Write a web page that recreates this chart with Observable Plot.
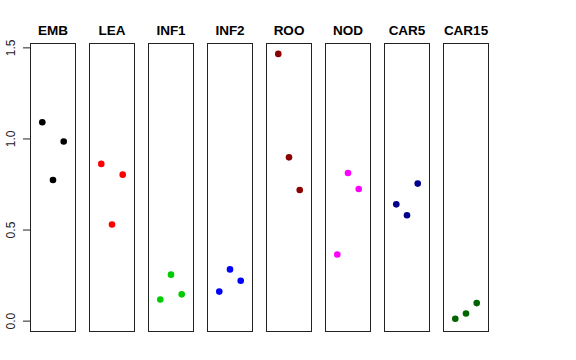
<!DOCTYPE html>
<html>
<head>
<meta charset="utf-8">
<script src="https://cdn.jsdelivr.net/npm/d3@7"></script>
<script src="https://cdn.jsdelivr.net/npm/@observablehq/plot@0.6"></script>
<style>
  body { margin: 0; background: white; }
  svg { font-family: "Liberation Sans", Arial, sans-serif; }
</style>
</head>
<body>
<div id="chart"></div>
<script>
const tissues = ["EMB", "LEA", "INF1", "INF2", "ROO", "NOD", "CAR5", "CAR15"];
const tissueColors = ["#000000", "#FF0000", "#00CD00", "#0000FF", "#8B0000", "#FF00FF", "#00008B", "#006400"];
const replicates = [1, 2, 3];
const EMB = [1.092, 0.775, 0.986];
const LEA = [0.863, 0.530, 0.804];
const INF1 = [0.119, 0.255, 0.147];
const INF2 = [0.162, 0.284, 0.222];
const ROO = [1.467, 0.899, 0.720];
const NOD = [0.366, 0.813, 0.725];
const CAR5 = [0.641, 0.581, 0.755];
const CAR15 = [0.013, 0.042, 0.099];
const seriesValues = [EMB, LEA, INF1, INF2, ROO, NOD, CAR5, CAR15];
const yTicks = [0, 0.5, 1.0, 1.5];

const data = tissues.flatMap((t, i) =>
  seriesValues[i].map((v, j) => ({ tissue: t, rep: replicates[j], value: v }))
);

const chart = Plot.plot({
  width: 576,
  height: 360,
  marginLeft: 29,
  marginRight: 88,
  marginTop: 43,
  marginBottom: 29,
  style: { fontFamily: "Liberation Sans, Arial, sans-serif", background: "white" },
  fx: { domain: tissues, paddingInner: 0.24, paddingOuter: 0, label: null },
  x: { domain: [-0.1, 4.1], axis: null },
  y: { domain: [-0.057, 1.524], axis: null },
  color: { domain: tissues, range: tissueColors },
  marks: [
    Plot.frame({ stroke: "#222", strokeWidth: 1 }),
    Plot.dot(data, { fx: "tissue", x: "rep", y: "value", fill: "tissue", r: 3.3 }),
    Plot.axisFx({ anchor: "top", tickSize: 0, tickPadding: 9, fontSize: 13.5, fontWeight: "bold", label: null, fill: "black" }),
    Plot.axisY({ ticks: yTicks, tickFormat: d => d.toFixed(1), tickRotate: -90, tickSize: 7, tickPadding: 9, fontSize: 12, label: null, stroke: "#222", fill: "#222" })
  ]
});
document.getElementById("chart").appendChild(chart);
</script>
</body>
</html>
